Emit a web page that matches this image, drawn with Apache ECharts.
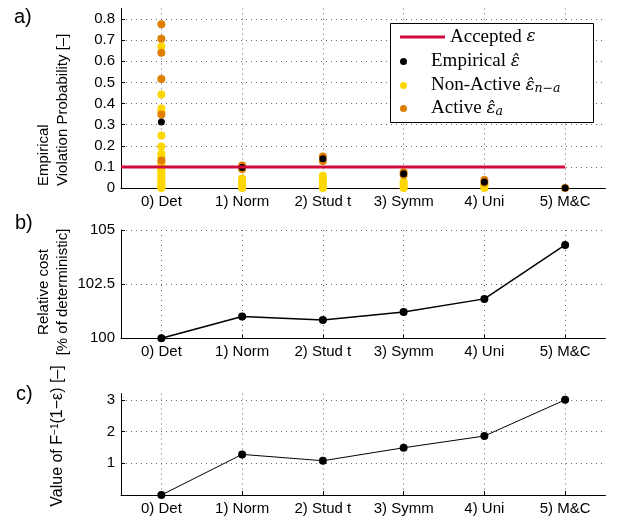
<!DOCTYPE html>
<html>
<head>
<meta charset="utf-8">
<script src="https://cdn.jsdelivr.net/npm/echarts@6/dist/echarts.min.js"></script>
<style>html,body{margin:0;padding:0;background:#fff;}#chart{width:618px;height:518px;}</style>
</head>
<body>
<div id="chart"></div>
<script>
// ---------------- data ----------------
const categories = ['0) Det', '1) Norm', '2) Stud t', '3) Symm', '4) Uni', '5) M&C'];
const acceptedEps = 0.1;
const empirical = [0.313, 0.097, 0.138, 0.067, 0.029, 0];
const activeByCat = [
  [0.776, 0.707, 0.641, 0.516, 0.348, 0.13],
  [0.106, 0.09],
  [0.149, 0.128],
  [0.075, 0.061],
  [0.038, 0.025],
  [0]
];
const nonActiveByCat = [
  [0.67, 0.443, 0.376, 0.362, 0.249, 0.197, 0.162, 0.145, 0.12, 0.11, 0.1, 0.09, 0.08, 0.07, 0.06, 0.05, 0.04, 0.03, 0.02, 0.01, 0.005, 0],
  [0.045, 0.035, 0.025, 0.015, 0.005, 0],
  [0.058, 0.045, 0.035, 0.025, 0.015, 0.005, 0],
  [0.03, 0.02, 0.01, 0],
  [0.015, 0.008, 0],
  []
];
const relativeCost = [100, 101.01, 100.84, 101.21, 101.82, 104.31];
const invCdf = [0, 1.28, 1.08, 1.49, 1.86, 3.0];

// ---------------- helpers ----------------
// category i sits on slot 2i+1; slot 0 is the left plot edge, last slot the right edge
const slots = [];
for (let k = 0; k <= categories.length * 2; k++) slots.push('s' + k);
const pos = i => 2 * i + 1;
const isCat = idx => idx % 2 === 1;

const FONT = 'Liberation Sans';
const dotted = { color: '#666', width: 1, type: [1, 4] };

function xAxisFor(gridIndex) {
  return {
    type: 'category', gridIndex, data: slots, boundaryGap: false,
    axisLine: { lineStyle: { color: '#000', width: 1 } },
    axisTick: { inside: true, length: 4, interval: (idx) => isCat(idx), lineStyle: { color: '#000' } },
    axisLabel: {
      interval: (idx) => isCat(idx), margin: 6,
      formatter: (v, idx) => isCat(idx) ? categories[(idx - 1) / 2] : '',
      color: '#000', fontFamily: FONT, fontSize: 15
    },
    splitLine: { show: true, interval: (idx) => isCat(idx), lineStyle: dotted }
  };
}
function yAxisFor(gridIndex, min, max, interval) {
  return {
    type: 'value', gridIndex, min, max, interval,
    axisLine: { show: true, lineStyle: { color: '#000', width: 1 } },
    axisTick: { show: true, inside: true, length: 4, lineStyle: { color: '#000' } },
    axisLabel: { color: '#000', fontFamily: FONT, fontSize: 15, margin: 6, showMaxLabel: false },
    splitLine: { show: true, showMinLine: false, showMaxLine: false, lineStyle: dotted }
  };
}

const toPairs = (lists) => {
  const out = [];
  lists.forEach((vals, i) => vals.forEach(v => out.push([pos(i), v])));
  return out;
};

const COL_RED = '#D20A3C', COL_YEL = '#FFD700', COL_ORA = '#E07E00';

const yAxisA = yAxisFor(0, 0, 0.85, 0.1);
const yAxisB = yAxisFor(1, 100, 105, 2.5);
yAxisB.axisLabel.showMaxLabel = true;
yAxisB.splitLine.showMaxLine = true;
const yAxisC = yAxisFor(2, 0, 3.2, 1);
yAxisC.axisLabel.showMinLabel = false;

const MATH = 'DejaVu Serif';
const legendBase = {
  orient: 'horizontal', left: 400, padding: 0, itemWidth: 45, selectedMode: false, z: 6,
  formatter: (name) => ({
    'Accepted': 'Accepted {m|ε}',
    'Empirical': 'Empirical {m|ε\u0302}',
    'Non-Active': 'Non-Active {m|ε\u0302}{s|n−a}',
    'Active': 'Active {m|ε\u0302}{s|a}'
  })[name],
  textStyle: {
    color: '#000', fontFamily: 'Liberation Serif', fontSize: 19, lineHeight: 20,
    rich: {
      m: { fontFamily: MATH, fontStyle: 'italic', fontSize: 17, lineHeight: 20, color: '#000' },
      s: { fontFamily: MATH, fontStyle: 'italic', fontSize: 12.5, lineHeight: 12, verticalAlign: 'bottom', color: '#000', padding: [6, 0, 0, 0] }
    }
  }
};

const option = {
  animation: false,
  backgroundColor: '#fff',
  grid: [
    { left: 121, right: 12.5, top: 8.5, height: 179.5 },
    { left: 121, right: 12.5, top: 230, height: 108.3 },
    { left: 121, right: 12.5, top: 393.5, height: 101.5 }
  ],
  xAxis: [xAxisFor(0), xAxisFor(1), xAxisFor(2)],
  yAxis: [yAxisA, yAxisB, yAxisC],
  legend: [
    Object.assign({}, legendBase, { data: [{ name: 'Accepted', icon: 'rect' }], top: 27, itemHeight: 3 }),
    Object.assign({}, legendBase, { data: [{ name: 'Empirical', icon: 'circle' }], top: 51.5, itemHeight: 7 }),
    Object.assign({}, legendBase, { data: [{ name: 'Non-Active', icon: 'circle' }], top: 75.5, itemHeight: 7 }),
    Object.assign({}, legendBase, { data: [{ name: 'Active', icon: 'circle' }], top: 98.5, itemHeight: 7 })
  ],
  graphic: [
    { type: 'rect', z: 5, shape: { x: 390.5, y: 23.5, width: 203, height: 99 }, style: { fill: '#fff', stroke: '#000', lineWidth: 1 } },
    { type: 'text', x: 14, y: 17, style: { text: 'a)', font: '20px "Liberation Sans"', fill: '#000', textVerticalAlign: 'middle' } },
    { type: 'text', x: 15, y: 223, style: { text: 'b)', font: '20px "Liberation Sans"', fill: '#000', textVerticalAlign: 'middle' } },
    { type: 'text', x: 16, y: 394, style: { text: 'c)', font: '20px "Liberation Sans"', fill: '#000', textVerticalAlign: 'middle' } },
    { type: 'text', x: 53.5, y: 186, rotation: Math.PI / 2,
      style: { text: 'Empirical\nViolation Probability [–]', font: '15px "Liberation Sans"', lineHeight: 19, fill: '#000', textAlign: 'left', textVerticalAlign: 'middle' } },
    { type: 'text', x: 53.5, y: 292, rotation: Math.PI / 2,
      style: { text: 'Relative cost\n[% of deterministic]', font: '15px "Liberation Sans"', lineHeight: 19, fill: '#000', textAlign: 'center', textVerticalAlign: 'middle' } },
    { type: 'text', x: 58, y: 436, rotation: Math.PI / 2,
      style: { text: 'Value of F{sup|−1}(1−ε) [–]', font: '16px "Liberation Sans"', fill: '#000', textAlign: 'center', textVerticalAlign: 'middle',
        rich: { sup: { fontFamily: 'Liberation Sans', fontSize: 10, verticalAlign: 'top', lineHeight: 16, fill: '#000', padding: [0, 0, 6, 0] } } } }
  ],
  series: [
    { name: 'Accepted', type: 'line', xAxisIndex: 0, yAxisIndex: 0, symbol: 'none', color: COL_RED,
      lineStyle: { color: COL_RED, width: 3 }, data: [[0, acceptedEps], [pos(categories.length - 1), acceptedEps]] },
    { name: 'Non-Active', type: 'scatter', xAxisIndex: 0, yAxisIndex: 0, symbolSize: 8, color: COL_YEL,
      itemStyle: { color: COL_YEL, opacity: 1 }, data: toPairs(nonActiveByCat) },
    { name: 'Active', type: 'scatter', xAxisIndex: 0, yAxisIndex: 0, symbolSize: 8, color: COL_ORA,
      itemStyle: { color: COL_ORA, opacity: 1 }, data: toPairs(activeByCat) },
    { name: 'Empirical', type: 'scatter', xAxisIndex: 0, yAxisIndex: 0, symbolSize: 7, color: '#000',
      itemStyle: { color: '#000', opacity: 1 }, data: empirical.map((v, i) => [pos(i), v]) },
    { name: 'cost', type: 'line', xAxisIndex: 1, yAxisIndex: 1, symbol: 'circle', symbolSize: 8,
      itemStyle: { color: '#000', opacity: 1 }, lineStyle: { color: '#000', width: 1.5 }, data: relativeCost.map((v, i) => [pos(i), v]) },
    { name: 'finv', type: 'line', xAxisIndex: 2, yAxisIndex: 2, symbol: 'circle', symbolSize: 8,
      itemStyle: { color: '#000', opacity: 1 }, lineStyle: { color: '#000', width: 1 }, data: invCdf.map((v, i) => [pos(i), v]) }
  ]
};
const chart = echarts.init(document.getElementById('chart'), null, { renderer: 'canvas' });
chart.setOption(option);
</script>
</body>
</html>
